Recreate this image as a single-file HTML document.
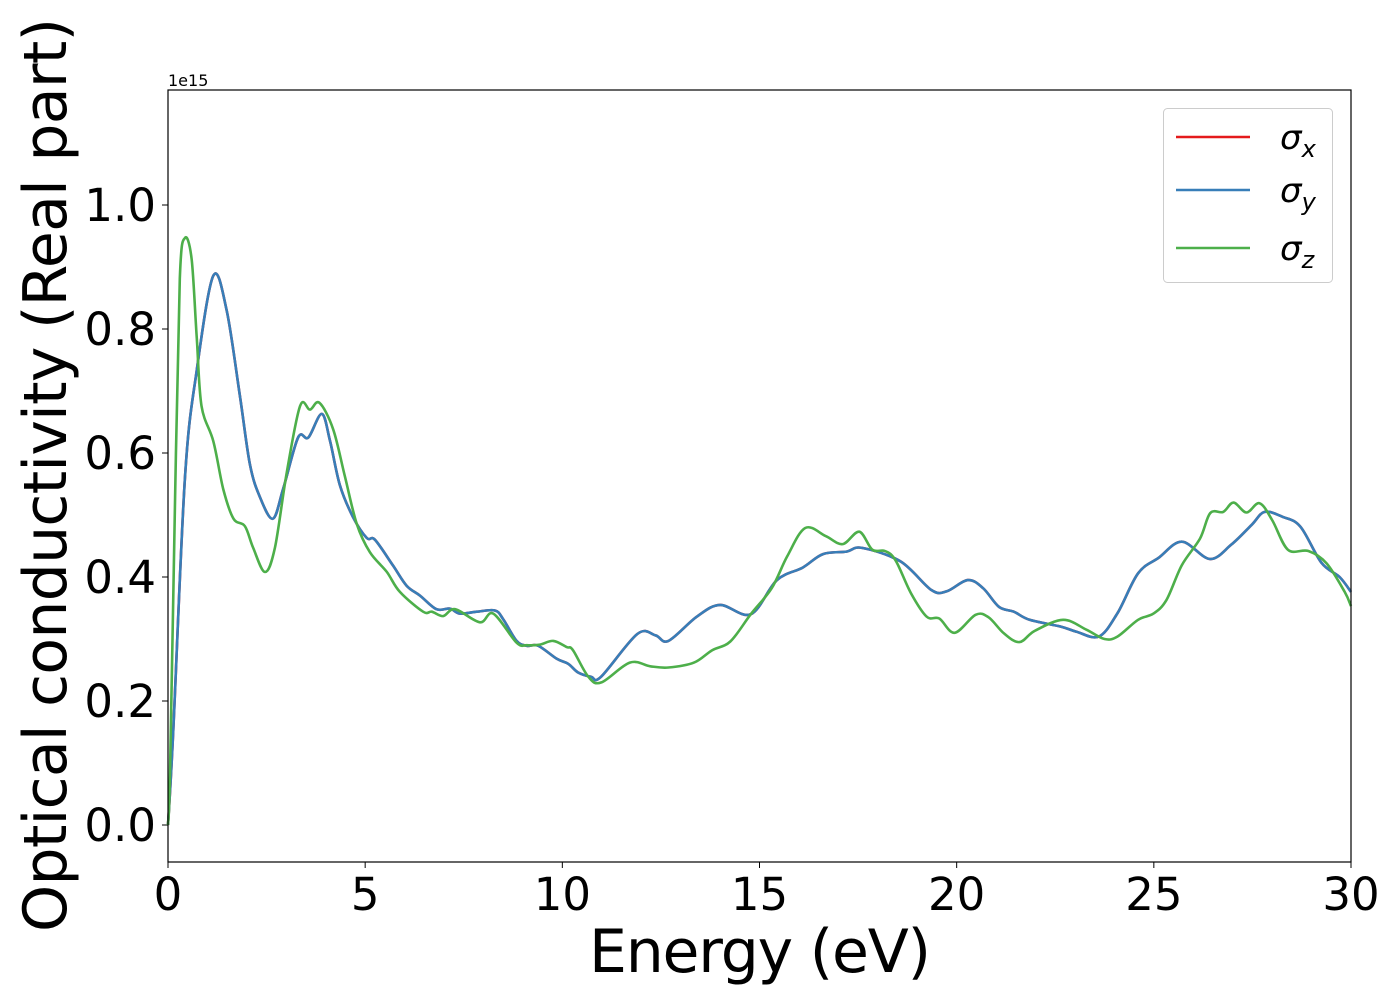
<!DOCTYPE html>
<html><head><meta charset="utf-8"><style>
html,body{margin:0;padding:0;background:#fff;}
svg{display:block;font-family:"DejaVu Sans","Liberation Sans",sans-serif;}
</style></head><body>
<svg id="chart" width="1400" height="1000" viewBox="0 0 1400 1000" xmlns="http://www.w3.org/2000/svg">
<rect width="1400" height="1000" fill="#fff"/>
<g id="xticks"></g>
<g id="yticks"></g>
<g id="series"></g>
<rect x="168" y="90" width="1183" height="772" fill="none" stroke="#000" stroke-width="1.2"/>
<text x="168" y="86" font-size="16">1e15</text>
<text x="760" y="972" font-size="60" text-anchor="middle" textLength="342">Energy (eV)</text>
<text transform="translate(66,475) rotate(-90)" font-size="60" text-anchor="middle" textLength="914">Optical conductivity (Real part)</text>
<g>
<rect x="1163.5" y="108.5" width="169" height="174" rx="4" fill="#fff" stroke="#ccc" stroke-width="1"/>
<line x1="1176" y1="137" x2="1250" y2="137" stroke="#e41a1c" stroke-width="2.5"/>
<text x="1280" y="149" font-size="34" font-style="italic">σ<tspan font-size="24" dy="8">x</tspan></text>
<line x1="1176" y1="190" x2="1250" y2="190" stroke="#377eb8" stroke-width="2.5"/>
<text x="1280" y="202" font-size="34" font-style="italic">σ<tspan font-size="24" dy="8">y</tspan></text>
<line x1="1176" y1="248" x2="1250" y2="248" stroke="#4daf4a" stroke-width="2.5"/>
<text x="1280" y="260" font-size="34" font-style="italic">σ<tspan font-size="24" dy="8">z</tspan></text>
</g>
</svg>
<script>
const xTickValues=[0,5,10,15,20,25,30];
const yTickValues=[0.0,0.2,0.4,0.6,0.8,1.0];
const yTickLabels=["0.0","0.2","0.4","0.6","0.8","1.0"];
const energyXY=[0,0.13,0.43,0.73,1.15,1.49,1.83,2.08,2.33,2.66,2.92,3.30,3.56,3.90,4.11,4.36,4.69,5.04,5.25,5.71,6.05,6.39,6.81,7.15,7.40,7.83,8.29,8.50,8.84,9.10,9.39,9.86,10.15,10.40,10.73,10.98,11.90,12.36,12.69,13.41,14.00,14.78,15.44,16.09,16.61,17.21,17.60,18.58,19.36,19.75,20.28,20.67,21.07,21.45,21.85,22.64,23.03,23.61,24.08,24.60,25.12,25.71,26.42,26.96,27.48,27.81,28.27,28.72,29.25,29.71,30.0];
const sigmaXY=[0,0.147,0.561,0.734,0.886,0.829,0.689,0.581,0.529,0.494,0.542,0.625,0.625,0.663,0.619,0.548,0.497,0.463,0.460,0.418,0.386,0.370,0.348,0.349,0.341,0.344,0.346,0.332,0.297,0.289,0.289,0.268,0.260,0.246,0.239,0.239,0.308,0.306,0.297,0.336,0.355,0.340,0.395,0.415,0.437,0.441,0.447,0.425,0.379,0.377,0.395,0.382,0.352,0.344,0.331,0.320,0.312,0.304,0.342,0.406,0.431,0.457,0.429,0.452,0.484,0.505,0.497,0.481,0.423,0.400,0.376];
const energyZ=[0,0.05,0.18,0.30,0.43,0.60,0.73,0.85,1.15,1.40,1.66,1.95,2.16,2.46,2.71,3.01,3.35,3.60,3.84,4.19,4.49,4.79,5.12,5.55,5.88,6.47,6.69,6.98,7.28,7.91,8.25,8.84,9.10,9.43,9.77,10.11,10.27,10.66,10.99,11.71,12.23,12.69,13.34,13.80,14.26,14.78,15.31,15.70,16.16,16.68,17.11,17.53,17.86,18.18,18.45,18.84,19.24,19.56,19.95,20.48,20.81,21.20,21.59,21.98,22.70,23.29,23.75,24.08,24.60,24.99,25.32,25.71,26.17,26.43,26.76,27.02,27.35,27.68,28.00,28.40,28.92,29.38,29.84,30.0];
const sigmaZ=[0,0.083,0.529,0.881,0.947,0.912,0.785,0.676,0.619,0.542,0.494,0.482,0.447,0.408,0.447,0.568,0.676,0.670,0.681,0.638,0.561,0.485,0.440,0.408,0.376,0.344,0.344,0.337,0.348,0.327,0.341,0.294,0.290,0.291,0.297,0.287,0.282,0.239,0.230,0.262,0.256,0.254,0.262,0.282,0.296,0.340,0.382,0.433,0.479,0.466,0.453,0.473,0.444,0.442,0.427,0.374,0.336,0.333,0.310,0.339,0.335,0.309,0.295,0.313,0.331,0.315,0.300,0.304,0.331,0.341,0.363,0.419,0.462,0.503,0.505,0.520,0.504,0.519,0.492,0.444,0.442,0.422,0.376,0.353];

const NS="http://www.w3.org/2000/svg";
const X0=168,X1=1351,XMIN=0,XMAX=30;
const Y0=825,YPER=620;
function xs(v){return X0+(v-XMIN)/(XMAX-XMIN)*(X1-X0);}
function ys(v){return Y0-v*YPER;}

const xt=document.getElementById('xticks');
xTickValues.forEach(v=>{
  const l=document.createElementNS(NS,'line');
  l.setAttribute('x1',xs(v));l.setAttribute('x2',xs(v));l.setAttribute('y1',862);l.setAttribute('y2',868);
  l.setAttribute('stroke','#000');
  
  
  xt.appendChild(l);
  const t=document.createElementNS(NS,'text');
  t.setAttribute('x',xs(v));t.setAttribute('y',910);t.setAttribute('font-size','45');t.setAttribute('text-anchor','middle');
  t.textContent=String(v);
  
  
  xt.appendChild(t);
});
const yt=document.getElementById('yticks');
yTickValues.forEach((v,i)=>{
  const l=document.createElementNS(NS,'line');
  l.setAttribute('x1',162);l.setAttribute('x2',168);l.setAttribute('y1',ys(v));l.setAttribute('y2',ys(v));
  l.setAttribute('stroke','#000');
  
  
  yt.appendChild(l);
  const t=document.createElementNS(NS,'text');
  t.setAttribute('x',156);t.setAttribute('y',ys(v)+16);t.setAttribute('font-size','45');t.setAttribute('text-anchor','end');
  t.textContent=yTickLabels[i];
  
  
  yt.appendChild(t);
});

function smoothPath(xv,yv){
  const p=xv.map((x,i)=>[xs(x),ys(yv[i])]);
  let d='M'+p[0][0].toFixed(1)+','+p[0][1].toFixed(1);
  for(let i=0;i<p.length-1;i++){
    const a=p[Math.max(0,i-1)],b=p[i],c=p[i+1],e=p[Math.min(p.length-1,i+2)];
    const c1=[b[0]+(c[0]-a[0])/6,b[1]+(c[1]-a[1])/6];
    const c2=[c[0]-(e[0]-b[0])/6,c[1]-(e[1]-b[1])/6];
    d+='C'+c1[0].toFixed(1)+','+c1[1].toFixed(1)+' '+c2[0].toFixed(1)+','+c2[1].toFixed(1)+' '+c[0].toFixed(1)+','+c[1].toFixed(1);
  }
  return d;
}
const sg=document.getElementById('series');
function addLine(xv,yv,color,name){
  const p=document.createElementNS(NS,'path');
  p.setAttribute('d',smoothPath(xv,yv));
  p.setAttribute('fill','none');p.setAttribute('stroke',color);p.setAttribute('stroke-width','2.6');
  p.setAttribute('stroke-linejoin','round');
  
  
  sg.appendChild(p);
}
addLine(energyXY,sigmaXY,'#e41a1c','sigma-x-line');
addLine(energyXY,sigmaXY,'#377eb8','sigma-y-line');
addLine(energyZ,sigmaZ,'#4daf4a','sigma-z-line');
</script>
</body></html>
